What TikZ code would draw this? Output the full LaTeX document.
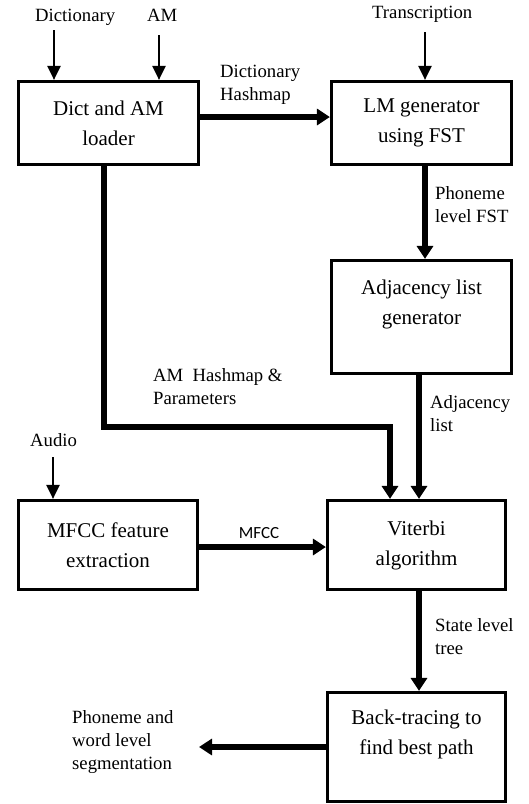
\documentclass[tikz,border=0pt]{standalone}
\usepackage{fontspec}
\setmainfont{Liberation Serif}
\newfontfamily\calibrifont{Carlito}
\usetikzlibrary{arrows.meta}

\begin{document}
\begin{tikzpicture}[x=1pt, y=-1pt,
	blok/.style={draw, line width=3.2pt, minimum width=180pt, align=center, font=\fontsize{21}{30}\selectfont},
	lbl/.style={anchor=base west, align=left, inner sep=0pt, font=\fontsize{18.7}{23}\selectfont},
	inarrow/.style={line width=2.3pt, -{Triangle[length=14pt, width=13pt]}},
	flowarrow/.style={line width=5.5pt, -{Triangle[length=13pt, width=16pt]}}]
	\useasboundingbox (0,0) rectangle (528,804);

	\node[blok, minimum height=83pt] (dict) at (108.5,123) {Dict and AM\\loader};
	\node[blok, minimum height=83pt] (lm) at (421.5,123) {LM generator\\using FST};
	\node[blok, minimum height=113pt] (adj) at (421.5,317) {Adjacency list\\generator\\\mbox{}};
	\node[blok, minimum width=179pt, minimum height=89pt] (mfcc) at (108,545) {MFCC feature\\extraction};
	\node[blok, minimum width=178pt, minimum height=89pt] (vit) at (416.5,545) {Viterbi\\algorithm};
	\node[blok, minimum width=178pt, minimum height=109pt] (back) at (416.5,747) {Back-tracing to\\find best path\\\mbox{}};

	% inputs
	\node[lbl] (dictin) at (35,21) {Dictionary};
	\node[lbl] (amin) at (147,21) {AM};
	\node[lbl] (transin) at (372,18) {Transcription};
	\node[lbl] (audioin) at (30,446) {Audio};

	\coordinate (dictsrc) at (54,30);
	\coordinate (amsrc) at (159,35);
	\coordinate (transsrc) at (425,32);
	\coordinate (audiosrc) at (53,457);
	\draw[inarrow] (dictsrc) -- (dictsrc |- dict.north);
	\draw[inarrow] (amsrc) -- (amsrc |- dict.north);
	\draw[inarrow] (transsrc) -- (transsrc |- lm.north);
	\draw[inarrow] (audiosrc) -- (audiosrc |- mfcc.north);

	% flow
	\coordinate (amturn) at (390,427);
	\coordinate (segout) at (199,747);
	\draw[flowarrow] ([yshift=6pt]dict.east) -- ([yshift=6pt]lm.west);
	\draw[flowarrow] ([xshift=3.5pt]lm.south) -- ([xshift=3.5pt]adj.north);
	\draw[flowarrow] ([xshift=-2.5pt]adj.south) -- ([xshift=-2.5pt]adj.south |- vit.north);
	\draw[flowarrow] ([xshift=-4.5pt]dict.south) |- (amturn) -- (amturn |- vit.north);
	\draw[flowarrow] ([yshift=-2pt]mfcc.east) -- ([yshift=-2pt]vit.west);
	\draw[flowarrow] ([xshift=2.5pt]vit.south) -- ([xshift=2.5pt]back.north);
	\draw[flowarrow] (back.west) -- (segout);

	% labels (base = last line)
	\node[lbl] (hashlbl) at (220,100) {Dictionary\\Hashmap};
	\node[lbl] (fstlbl) at (435,222) {Phoneme\\level FST};
	\node[lbl] (amlbl) at (153,404) {AM\ \ Hashmap \&\\Parameters};
	\node[lbl] (adjlbl) at (430,431) {Adjacency\\list};
	\node[anchor=base, inner sep=0pt, font=\calibrifont\fontsize{17}{20}\selectfont] (mfcclbl) at (259,538) {MFCC};
	\node[lbl] (treelbl) at (435,654) {State level\\tree};
	\node[lbl] (seglbl) at (72,769) {Phoneme and\\word level\\segmentation};
\end{tikzpicture}
\end{document}
